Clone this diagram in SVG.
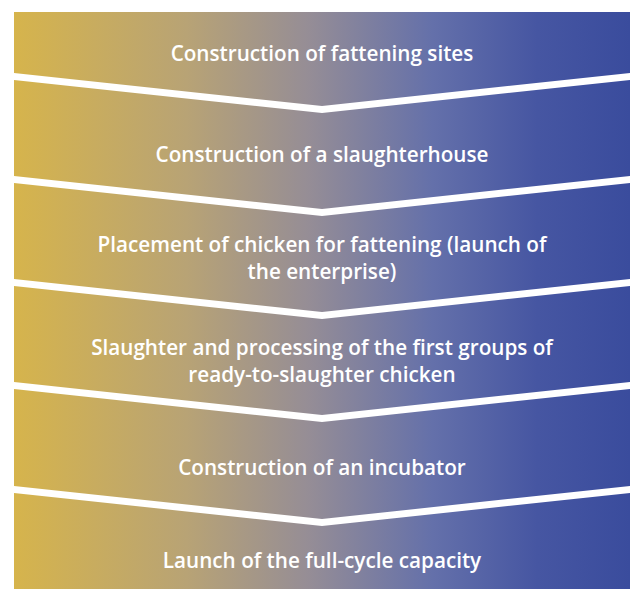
<svg xmlns="http://www.w3.org/2000/svg" width="633" height="590" viewBox="0 0 633 590">
<style>
.band{fill:url(#grad);}
.lbl{fill:#ffffff;font-family:"Open Sans","Liberation Sans",sans-serif;font-weight:600;font-size:20.7px;text-anchor:middle;}
</style>
<defs>
<linearGradient id="grad" gradientUnits="userSpaceOnUse" x1="14" y1="0" x2="630" y2="0">
<stop offset="0" stop-color="#d6b44c"/>
<stop offset="0.28" stop-color="#b8a375"/>
<stop offset="0.48" stop-color="#958d96"/>
<stop offset="0.68" stop-color="#6470aa"/>
<stop offset="0.85" stop-color="#4656a2"/>
<stop offset="1" stop-color="#3a4c9d"/>
</linearGradient>
</defs>
<rect width="633" height="590" fill="#ffffff"/>
<g id="step1">
<polygon class="band" points="14,12 630,12 630,73 322,106 14,73"/>
<text class="lbl" x="322" y="61">Construction of fattening sites</text>
</g>
<g id="step2">
<polygon class="band" points="14,80 322,113 630,80 630,176 322,209 14,176"/>
<text class="lbl" x="322" y="162">Construction of a slaughterhouse</text>
</g>
<g id="step3">
<polygon class="band" points="14,183 322,216 630,183 630,279 322,312 14,279"/>
<text class="lbl" x="322" y="252">Placement of chicken for fattening (launch of</text>
<text class="lbl" x="322" y="279">the enterprise)</text>
</g>
<g id="step4">
<polygon class="band" points="14,286 322,319 630,286 630,382 322,415 14,382"/>
<text class="lbl" x="322" y="355">Slaughter and processing of the first groups of</text>
<text class="lbl" x="322" y="382">ready-to-slaughter chicken</text>
</g>
<g id="step5">
<polygon class="band" points="14,389 322,422 630,389 630,486 322,519 14,486"/>
<text class="lbl" x="322" y="475">Construction of an incubator</text>
</g>
<g id="step6">
<polygon class="band" points="14,493 322,526 630,493 630,589 14,589"/>
<text class="lbl" x="322" y="568">Launch of the full-cycle capacity</text>
</g>
<g id="connectors"/>
</svg>
